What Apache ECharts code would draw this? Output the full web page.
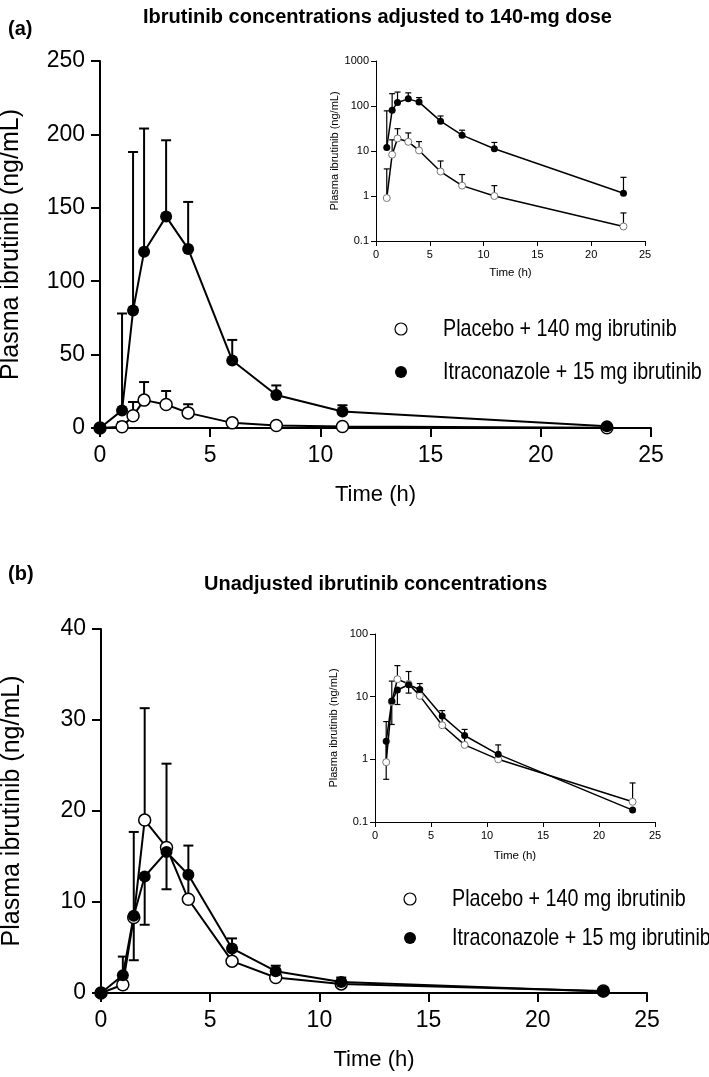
<!DOCTYPE html>
<html><head><meta charset="utf-8">
<script src="https://cdn.jsdelivr.net/npm/echarts@6/dist/echarts.min.js"></script>
<style>html,body{margin:0;padding:0;background:#fff}#c{width:709px;height:1077px}</style>
</head><body><div id="c"></div>
<script>
// ---- data ----
const timeH = [0, 1, 1.5, 2, 3, 4, 6, 8, 11, 23];
const placebo140 = [0, 0.9, 8.3, 19, 16, 10.3, 3.5, 1.7, 1.0, 0.21];
const placeboUpper = [null, 4.0, 17.7, 31.3, 25.2, 16.2, 6.0, 3.0, 1.7, 0.42];
const itraAdjusted = [0, 12, 80, 120, 144, 122, 46, 22.5, 11.2, 1.15];
const itraAdjustedUpper = [null, 78, 188, 204, 196, 154, 60, 29, 15.5, 2.6];
const itraUnadjusted = [0, 1.95, 8.5, 12.8, 15.5, 13, 4.9, 2.4, 1.2, 0.155];
const itraUnadjustedLower = [null, 0.48, 3.6, 7.5, 11.4, null, null, null, null, null];
const xTicks = [0, 5, 10, 15, 20, 25];
const yTicksA = [0, 50, 100, 150, 200, 250];
const yTicksB = [0, 10, 20, 30, 40];
const logTicksA = [0.1, 1, 10, 100, 1000];
const logTicksB = [0.1, 1, 10, 100];
const legendNames = ['Placebo + 140 mg ibrutinib', 'Itraconazole + 15 mg ibrutinib'];

const P = legendNames[0];
const I = legendNames[1];
const FONT = "'Liberation Sans', Arial, sans-serif";

function pairs(xs, ys, from) {
  const out = [];
  for (let i = from; i < xs.length; i++) out.push([xs[i], ys[i]]);
  return out;
}
function errPairs(xs, ys, ends, from) {
  const out = [];
  for (let i = from; i < xs.length; i++) if (ends[i] != null) out.push([xs[i], ys[i], ends[i]]);
  return out;
}
function errRender(capHalf, lw) {
  return function (params, api) {
    const x = api.value(0), y = api.value(1), e = api.value(2);
    const p0 = api.coord([x, y]), p1 = api.coord([x, e]);
    return { type: 'group', children: [
      { type: 'line', shape: { x1: p0[0], y1: p0[1], x2: p1[0], y2: p1[1] }, style: { stroke: '#000', lineWidth: lw } },
      { type: 'line', shape: { x1: p1[0] - capHalf, y1: p1[1], x2: p1[0] + capHalf, y2: p1[1] }, style: { stroke: '#000', lineWidth: lw } }
    ]};
  };
}
function mainX(grid) {
  return { type: 'value', gridIndex: grid, min: xTicks[0], max: xTicks[xTicks.length - 1], interval: xTicks[1] - xTicks[0],
    name: 'Time (h)', nameLocation: 'middle', nameGap: 56,
    nameTextStyle: { fontFamily: FONT, fontSize: 22, color: '#000' },
    axisLine: { onZero: false, lineStyle: { color: '#000', width: 2 } },
    axisTick: { length: 9, lineStyle: { width: 2, color: '#000' } },
    axisLabel: { fontFamily: FONT, fontSize: 23, color: '#000', margin: 16 },
    splitLine: { show: false } };
}
function mainY(grid, ticks) {
  return { type: 'value', gridIndex: grid, min: ticks[0], max: ticks[ticks.length - 1], interval: ticks[1] - ticks[0],
    name: 'Plasma ibrutinib (ng/mL)', nameLocation: 'middle', nameGap: 76,
    nameTextStyle: { fontFamily: FONT, fontSize: 25, color: '#000' },
    axisLine: { show: true, onZero: false, lineStyle: { color: '#000', width: 2 } },
    axisTick: { show: true, length: 9, lineStyle: { width: 2, color: '#000' } },
    axisLabel: { fontFamily: FONT, fontSize: 23, color: '#000', margin: 15 },
    splitLine: { show: false } };
}
function insetX(grid, gap) {
  return { type: 'value', gridIndex: grid, min: xTicks[0], max: xTicks[xTicks.length - 1], interval: xTicks[1] - xTicks[0],
    name: 'Time (h)', nameLocation: 'middle', nameGap: gap,
    nameTextStyle: { fontFamily: FONT, fontSize: 11.5, color: '#000' },
    axisLine: { onZero: false, lineStyle: { color: '#000', width: 1 } },
    axisTick: { length: 5, lineStyle: { width: 1, color: '#000' } },
    axisLabel: { fontFamily: FONT, fontSize: 11, color: '#000', margin: 8 },
    splitLine: { show: false } };
}
function insetY(grid, ticks) {
  return { type: 'log', logBase: 10, gridIndex: grid, min: ticks[0], max: ticks[ticks.length - 1],
    name: 'Plasma ibrutinib (ng/mL)', nameLocation: 'middle', nameGap: 36,
    nameTextStyle: { fontFamily: FONT, fontSize: 11, color: '#000' },
    axisLine: { show: true, onZero: false, lineStyle: { color: '#000', width: 1 } },
    axisTick: { show: true, length: 5, lineStyle: { width: 1, color: '#000' } },
    axisLabel: { fontFamily: FONT, fontSize: 11, color: '#000', margin: 7, formatter: function (v) { return String(v); } },
    minorTick: { show: false },
    splitLine: { show: false } };
}
function lineSeries(name, grid, data, filled, size, lw, border) {
  return { type: 'line', name: name, xAxisIndex: grid, yAxisIndex: grid, data: data, z: 3,
    symbol: 'circle', symbolSize: size, showSymbol: true, animation: false,
    lineStyle: { color: '#000', width: lw },
    itemStyle: filled ? { color: '#000', borderColor: '#000', borderWidth: 0 }
                      : { color: '#fff', borderColor: border, borderWidth: lw > 1.5 ? 1.5 : 1 } };
}
function errSeries(name, grid, data, capHalf, lw) {
  return { type: 'custom', name: name, xAxisIndex: grid, yAxisIndex: grid, data: data, z: 2,
    encode: { x: 0, y: [1, 2] }, clip: false, animation: false, silent: true,
    renderItem: errRender(capHalf, lw) };
}
// legend drawn as graphic (condensed text via horizontal scale)
function legendGraphic(cx, textX, y1, y2) {
  const rows = [[y1, false], [y2, true]];
  const els = [];
  rows.forEach(function (r, i) {
    els.push({ type: 'circle', shape: { cx: cx, cy: r[0], r: 6 },
      style: r[1] ? { fill: '#000' } : { fill: '#fff', stroke: '#000', lineWidth: 1.2 } });
    els.push({ type: 'text', x: textX, y: r[0], scaleX: 0.82,
      style: { text: legendNames[i], x: 0, y: 0, fontFamily: FONT, fontSize: 24, fill: '#000',
        textAlign: 'left', textVerticalAlign: 'middle', verticalAlign: 'middle' } });
  });
  return els;
}

const option = {
  backgroundColor: '#fff',
  animation: false,
  title: [
    { text: 'Ibrutinib concentrations adjusted to 140-mg dose', left: 138, top: 2,
      textStyle: { fontFamily: FONT, fontSize: 20, fontWeight: 'bold', color: '#000' } },
    { text: '(a)', left: 3, top: 14, textStyle: { fontFamily: FONT, fontSize: 20, fontWeight: 'bold', color: '#000' } },
    { text: 'Unadjusted ibrutinib concentrations', left: 199, top: 569,
      textStyle: { fontFamily: FONT, fontSize: 20, fontWeight: 'bold', color: '#000' } },
    { text: '(b)', left: 3, top: 559, textStyle: { fontFamily: FONT, fontSize: 20, fontWeight: 'bold', color: '#000' } }
  ],
  graphic: legendGraphic(401, 443, 329, 372).concat(legendGraphic(410, 452, 899, 938)),
  grid: [
    { left: 100, top: 61, width: 551, height: 367, outerBoundsMode: 'none', containLabel: false },
    { left: 376, top: 61, width: 269, height: 180, outerBoundsMode: 'none', containLabel: false },
    { left: 101, top: 629, width: 546, height: 364, outerBoundsMode: 'none', containLabel: false },
    { left: 375, top: 634, width: 280, height: 188, outerBoundsMode: 'none', containLabel: false }
  ],
  xAxis: [ mainX(0), insetX(1, 26), mainX(2), insetX(3, 28) ],
  yAxis: [ mainY(0, yTicksA), insetY(1, logTicksA), mainY(2, yTicksB), insetY(3, logTicksB) ],
  series: [
    // panel a, main
    errSeries(P, 0, errPairs(timeH, placebo140, placeboUpper, 1), 5, 2),
    errSeries(I, 0, errPairs(timeH, itraAdjusted, itraAdjustedUpper, 1), 5, 2),
    lineSeries(P, 0, pairs(timeH, placebo140, 0), false, 12, 2, '#000'),
    lineSeries(I, 0, pairs(timeH, itraAdjusted, 0), true, 12, 2, '#000'),
    // panel a, inset (log)
    errSeries(P, 1, errPairs(timeH, placebo140, placeboUpper, 1), 3, 1.2),
    errSeries(I, 1, errPairs(timeH, itraAdjusted, itraAdjustedUpper, 1), 3, 1.2),
    lineSeries(P, 1, pairs(timeH, placebo140, 1), false, 7, 1.5, '#777'),
    lineSeries(I, 1, pairs(timeH, itraAdjusted, 1), true, 7, 1.5, '#000'),
    // panel b, main
    errSeries(P, 2, errPairs(timeH, placebo140, placeboUpper, 1), 5, 2),
    errSeries(I, 2, errPairs(timeH, itraUnadjusted, itraUnadjustedLower, 1), 5, 2),
    lineSeries(P, 2, pairs(timeH, placebo140, 0), false, 12, 2, '#000'),
    lineSeries(I, 2, pairs(timeH, itraUnadjusted, 0), true, 12, 2, '#000'),
    // panel b, inset (log)
    errSeries(P, 3, errPairs(timeH, placebo140, placeboUpper, 1), 3, 1.2),
    errSeries(I, 3, errPairs(timeH, itraUnadjusted, itraUnadjustedLower, 1), 3, 1.2),
    lineSeries(P, 3, pairs(timeH, placebo140, 1), false, 7, 1.5, '#777'),
    lineSeries(I, 3, pairs(timeH, itraUnadjusted, 1), true, 7, 1.5, '#000')
  ]
};
const chart = echarts.init(document.getElementById('c'), null, { renderer: 'canvas' });
chart.setOption(option);
</script>
</body></html>
